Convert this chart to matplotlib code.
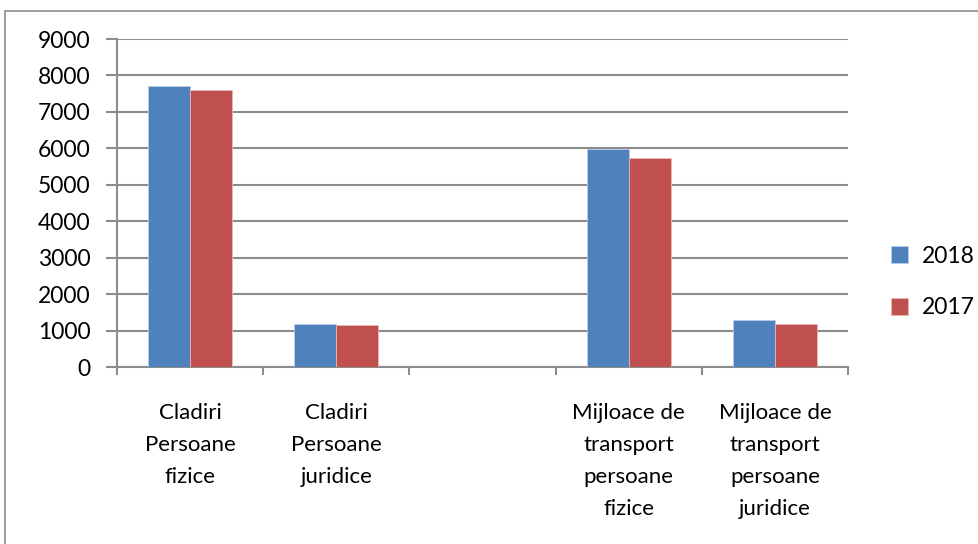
import matplotlib
matplotlib.use("Agg")
import matplotlib.pyplot as plt
import numpy as np
from matplotlib.patches import Rectangle

categories = ["Cladiri\nPersoane\nfizice", "Cladiri\nPersoane\njuridice", "",
              "Mijloace de\ntransport\npersoane\nfizice",
              "Mijloace de\ntransport\npersoane\njuridice"]
series_names = ["2018", "2017"]
values_2018 = [7700, 1180, np.nan, 5990, 1290]
values_2017 = [7600, 1140, np.nan, 5740, 1190]
yticks = [0, 1000, 2000, 3000, 4000, 5000, 6000, 7000, 8000, 9000]

plt.rcParams['font.family'] = ['Lato', 'DejaVu Sans']

fig = plt.figure(figsize=(9.79, 5.44), dpi=100)
W, H = 979, 544
ax = fig.add_axes([117 / W, 1 - 367 / H, (848 - 117) / W, (367 - 39) / H])

grid_c = "#8c8c8c"
x = np.arange(len(categories))
bw = 0.287
ax.bar(x - bw / 2, values_2018, bw, color="#4f81bd", edgecolor="#b9cde5", linewidth=0.6, label=series_names[0], zorder=3)
ax.bar(x + bw / 2, values_2017, bw, color="#c0504d", edgecolor="#e6b9b8", linewidth=0.6, label=series_names[1], zorder=3)

ax.set_xlim(-0.5, len(categories) - 0.5)
ax.set_ylim(0, 9000)
ax.set_yticks(yticks)
ax.set_yticklabels([str(v) for v in yticks], fontsize=16.5)
ax.yaxis.grid(True, color=grid_c, linewidth=1.5, zorder=0)
ax.set_axisbelow(True)

ax.set_xticks(np.arange(len(categories) + 1) - 0.5)
ax.set_xticklabels([])
ax.set_xticks(x, minor=True)
ax.set_xticklabels(categories, minor=True, fontsize=16, linespacing=1.75, va="top")
ax.tick_params(axis="x", which="major", length=6, width=1.5, color=grid_c, direction="out")
ax.tick_params(axis="x", which="minor", length=0, pad=26)
ax.tick_params(axis="y", length=8, width=1.5, color=grid_c, pad=11)

for s in ["top", "right"]:
    ax.spines[s].set_visible(False)
for s in ["left", "bottom"]:
    ax.spines[s].set_color(grid_c)
    ax.spines[s].set_linewidth(1.5)

leg = fig.legend(loc="center left", bbox_to_anchor=(882 / W, 1 - 282 / H), frameon=False,
                 fontsize=16.5, handlelength=0.75, handleheight=0.75, labelspacing=1.35,
                 handletextpad=0.6, borderaxespad=0)

fig.patches.append(Rectangle((5 / W, -10 / H), 990 / W, (544 - 11 + 10) / H, transform=fig.transFigure,
                             fill=False, edgecolor="#8c8c8c", linewidth=1.2))

fig.savefig("out.png", dpi=100)
